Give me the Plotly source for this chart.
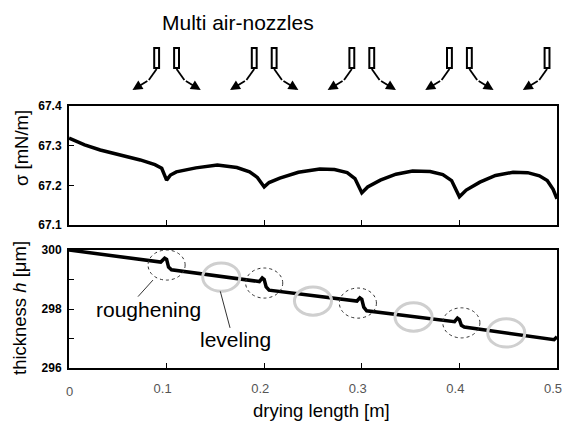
import plotly.graph_objects as go

# ---------------- data ----------------
dist_sigma = [0, 0.016, 0.032, 0.05, 0.073, 0.088, 0.095, 0.1, 0.104, 0.11, 0.13, 0.152, 0.172, 0.185, 0.193, 0.2,
              0.205, 0.216, 0.235, 0.257, 0.272, 0.285, 0.293, 0.3, 0.306, 0.319, 0.335, 0.352, 0.37, 0.383, 0.392,
              0.4, 0.407, 0.421, 0.437, 0.455, 0.47, 0.482, 0.49, 0.496, 0.5]
sigma = [67.319, 67.302, 67.289, 67.279, 67.264, 67.252, 67.243, 67.213, 67.226, 67.234, 67.244, 67.251, 67.245,
         67.234, 67.22, 67.196, 67.207, 67.218, 67.233, 67.241, 67.24, 67.232, 67.217, 67.181, 67.196, 67.213,
         67.228, 67.236, 67.235, 67.227, 67.212, 67.171, 67.188, 67.208, 67.225, 67.233, 67.232, 67.224, 67.212,
         67.19, 67.166]

dist_h = [0, 0.094, 0.098, 0.1, 0.102, 0.105, 0.195, 0.198, 0.2, 0.202, 0.205, 0.295, 0.298, 0.3, 0.302, 0.305,
          0.395, 0.398, 0.4, 0.402, 0.405, 0.49, 0.497, 0.5]
thickness = [300.0, 299.59, 299.72, 299.68, 299.42, 299.33, 298.93, 299.05, 299.0, 298.75, 298.64, 298.27, 298.38,
             298.33, 298.06, 297.94, 297.57, 297.69, 297.64, 297.45, 297.39, 296.98, 296.96, 297.06]

x_ticks = [0.1, 0.2, 0.3, 0.4, 0.5]
x_tick_labels = ["0.1", "0.2", "0.3", "0.4", "0.5"]
sigma_ticks = [67.1, 67.2, 67.3, 67.4]
sigma_tick_labels = ["67.1", "67.2", "67.3", "67.4"]
h_ticks = [296, 297, 298, 299, 300]
h_tick_labels = ["296", "", "298", "", "300"]

nozzle_x = [0.1, 0.2, 0.3, 0.4, 0.5]
rough_x = [0.1, 0.2, 0.296, 0.402]
rough_h = [299.49, 298.88, 298.2, 297.53]
level_x = [0.156, 0.25, 0.353, 0.448]
level_h = [299.08, 298.27, 297.73, 297.19]

W, H = 583, 421
FONT = "Arial, Liberation Sans, sans-serif"


def px(v):
    return v / W


def py(v):
    return 1 - v / H


fig = go.Figure()
fig.add_trace(go.Scatter(x=dist_sigma, y=sigma, xaxis="x", yaxis="y", mode="lines",
                         line=dict(color="black", width=3.5), showlegend=False))
fig.add_trace(go.Scatter(x=dist_h, y=thickness, xaxis="x2", yaxis="y2", mode="lines",
                         line=dict(color="black", width=3.5), showlegend=False))

axis_common = dict(showline=True, linewidth=2, linecolor="black", mirror=True, showgrid=False,
                   zeroline=False, ticks="inside", ticklen=5, tickwidth=1.2, tickcolor="black",
                   automargin=False)

xdom = [px(69), px(557)]
fig.update_layout(
    template="none",
    width=W, height=H, margin=dict(l=0, r=0, t=0, b=0, autoexpand=False),
    paper_bgcolor="white", plot_bgcolor="white", showlegend=False,
    font=dict(family=FONT, color="black"),
    xaxis=dict(domain=xdom, range=[0, 0.5], anchor="y", tickvals=x_ticks, showticklabels=False, **axis_common),
    yaxis=dict(domain=[py(225), py(106)], range=[67.1, 67.4], anchor="x", tickvals=sigma_ticks,
               ticktext=sigma_tick_labels, tickfont=dict(size=12, weight="bold", color="black"),
               ticklabelstandoff=3, **axis_common),
    xaxis2=dict(domain=xdom, range=[0, 0.5], anchor="y2", tickvals=x_ticks, ticktext=x_tick_labels,
                tickfont=dict(size=13, color="#555555"), ticklabelstandoff=7, ticklabelshift=-4, **axis_common),
    yaxis2=dict(domain=[py(368), py(250)], range=[296, 300], anchor="x2", tickvals=h_ticks,
                ticktext=h_tick_labels, tickfont=dict(size=12, weight="bold", color="black"),
                ticklabelstandoff=3, **axis_common),
)

shapes = []
annotations = []


def text_ann(x, y, text, size, xref="paper", yref="paper", color="black", angle=0):
    return dict(x=x, y=y, xref=xref, yref=yref, text=text, showarrow=False, textangle=angle,
                xanchor="center", yanchor="middle", font=dict(size=size, color=color))


# nozzles with air arrows
for nx in nozzle_x:
    for side in (-1, 1):
        cx = nx + side * 0.0102
        shapes.append(dict(type="rect", xref="x", yref="paper", x0=cx - 0.0025, x1=cx + 0.0025,
                           y0=py(68), y1=py(48), line=dict(color="black", width=2), fillcolor="white",
                           layer="above"))
        mid_x = cx + side * 0.008
        shapes.append(dict(type="line", xref="x", yref="paper", x0=cx, y0=py(69), x1=mid_x, y1=py(80),
                           line=dict(color="black", width=1.8)))
        tip_x = nx + side * 0.035
        annotations.append(dict(x=tip_x, y=py(90), xref="x", yref="paper", ax=(mid_x - tip_x) * 976,
                                ay=-10, axref="pixel", ayref="pixel", showarrow=True, arrowhead=2,
                                arrowsize=1.1, arrowwidth=1.8, arrowcolor="black", text=""))

annotations.append(text_ann(px(238), py(23), "Multi air-nozzles", 21))

# roughening (dotted) and leveling (grey) ellipses
for rx, rh in zip(rough_x, rough_h):
    shapes.append(dict(type="circle", xref="x2", yref="y2", x0=rx - 0.019, x1=rx + 0.019,
                       y0=rh - 0.51, y1=rh + 0.51, line=dict(color="#333333", width=1, dash="dot")))
for lx, lh in zip(level_x, level_h):
    shapes.append(dict(type="circle", xref="x2", yref="y2", x0=lx - 0.019, x1=lx + 0.019,
                       y0=lh - 0.48, y1=lh + 0.48, line=dict(color="#cfcfcf", width=3)))

# leader lines
shapes.append(dict(type="line", xref="x2", yref="y2", x0=0.0707, y0=298.42, x1=0.086, y1=298.98,
                   line=dict(color="#333333", width=1)))
shapes.append(dict(type="line", xref="x2", yref="y2", x0=0.165, y0=297.36, x1=0.155, y1=298.6,
                   line=dict(color="#333333", width=1)))

annotations.append(text_ann(0.081, 298.0, "roughening", 21, xref="x2", yref="y2"))
annotations.append(text_ann(0.171, 296.97, "leveling", 21, xref="x2", yref="y2"))

# displaced zero label
annotations.append(text_ann(0, py(391), "0", 13, xref="x2", color="#555555"))

# axis titles
annotations.append(text_ann(px(321), py(410), "drying length [m]", 18.5))
annotations.append(text_ann(px(21), py(148), "σ [mN/m]", 18.5, angle=-90))
annotations.append(text_ann(px(19), py(308), "thickness <i>h</i> [μm]", 18.5, angle=-90))

fig.update_layout(shapes=shapes, annotations=annotations)
fig.write_html("out.html", post_script="document.body.style.margin='0px';",
               config={"displayModeBar": False})
